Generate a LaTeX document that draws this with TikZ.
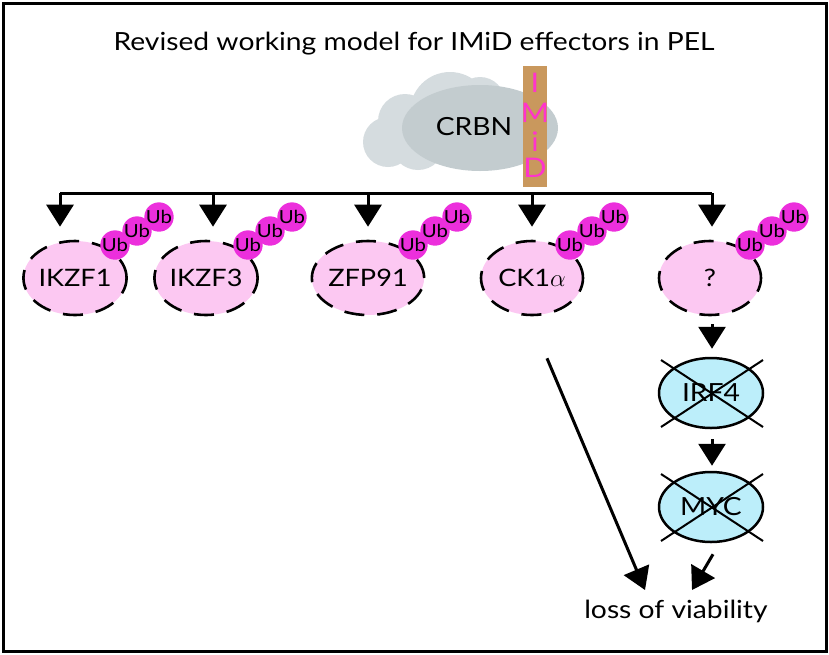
\documentclass[tikz,border=0pt]{standalone}
\usepackage{fontspec}
\setmainfont{Lato}[FakeStretch=1.13]
\usetikzlibrary{arrows.meta,shapes.geometric,calc}
\definecolor{pinkfill}{HTML}{FCC8F2}
\definecolor{ubmag}{HTML}{EC2FDC}
\definecolor{imidtxt}{HTML}{FF33CC}
\definecolor{bartan}{HTML}{C9985D}
\definecolor{cloudback}{HTML}{D5DCDF}
\definecolor{cloudfront}{HTML}{C3CCCF}
\definecolor{tfblue}{HTML}{BCEEFA}
\begin{document}
\begin{tikzpicture}[x=1pt,y=-1pt,
  fs/.style={font=\fontsize{#1}{#1}\selectfont},
  prot/.style={ellipse, fill=pinkfill, draw=black, line width=2.6pt,
    dash pattern=on 20pt off 13pt, minimum width=102pt, minimum height=74pt,
    inner sep=0pt, fs=24},
  ubc/.style={circle, fill=ubmag, minimum size=27pt, inner sep=0pt, fs=18},
  arr/.style={-{Triangle[length=22pt,width=27pt]}, line width=3pt},
  tf/.style={ellipse, fill=tfblue, draw=black, line width=2.5pt,
    minimum width=104pt, minimum height=70pt, inner sep=0pt, fs=25},
  imid/.style={fs=27, text=imidtxt, inner sep=0pt},
  cross/.style={line width=2pt}]
\useasboundingbox (0,0) rectangle (829,654);
\draw[line width=3pt] (3,3) rectangle (826,651);
\node[fs=25] (title) at (414,44) {Revised working model for IMiD effectors in PEL};
% cloud
\fill[cloudback] (450,112) circle (40) (405,121) circle (27) (388,142) circle (25)
  (418,143) circle (27) (480,102) circle (25);
\fill[cloudfront] (480,128) ellipse [x radius=78, y radius=43];
\node[fs=25] (crbn) at (474,127) {CRBN};
\fill[bartan] (523,66) rectangle (547,187);
\node[imid] (i1) at (535,83) {I};
\node[imid] (i2) at (535,113) {M};
\node[imid] (i3) at (535,142) {i};
\node[imid] (i4) at (535,168) {D};
% bus
\coordinate (b1) at (60,193);
\coordinate (b2) at (213,193);
\coordinate (b3) at (368,193);
\coordinate (b4) at (532,193);
\coordinate (b5) at (712,193);
\draw[line width=3pt] (b1) -- (b5);
% proteins
\node[prot] (p1) at (75,278) {IKZF1};
\node[prot] (p2) at (206,278) {IKZF3};
\node[prot] (p3) at (368,278) {ZFP91};
\node[prot] (p4) at (532,278) {CK1$\alpha$};
\node[prot] (p5) at (710,278) {?};
\foreach \p/\x in {p1/0,p2/2,p3/5,p4/-2,p5/0}{
  \node[ubc] (\p u1) at ([shift={(40+\x,-33)}]\p.center) {Ub};
  \node[ubc] (\p u2) at ([shift={(62+\x,-47)}]\p.center) {Ub};
  \node[ubc] (\p u3) at ([shift={(84+\x,-61)}]\p.center) {Ub};
}
\foreach \b/\p in {b1/p1,b2/p2,b3/p3,b4/p4,b5/p5}
  \draw[arr, shorten >=13pt] (\b) -- (\b |- \p.north);
% transcription factors
\node[tf] (irf) at (711,393) {IRF4};
\node[tf] (myc) at (711,507) {MYC};
\foreach \n in {irf,myc}{
  \draw[cross] ([shift={(-50,-33)}]\n.center) -- ([shift={(52,34)}]\n.center);
  \draw[cross] ([shift={(-50,34)}]\n.center) -- ([shift={(52,-33)}]\n.center);
}
\draw[arr, shorten <=8pt, shorten >=8pt] (p5.south -| b5) -- (irf.north -| b5);
\draw[arr, shorten <=10pt, shorten >=5pt] (irf.south -| b5) -- (myc.north -| b5);
% loss of viability
\node[fs=25] (loss) at (676,611) {loss of viability};
\coordinate (l1) at (645,590);
\coordinate (l2) at (692,590);
\draw[arr] ([shift={(15,42)}]p4.south) -- (l1);
\draw[arr] ([shift={(2,11)}]myc.south) -- (l2);
\end{tikzpicture}
\end{document}
